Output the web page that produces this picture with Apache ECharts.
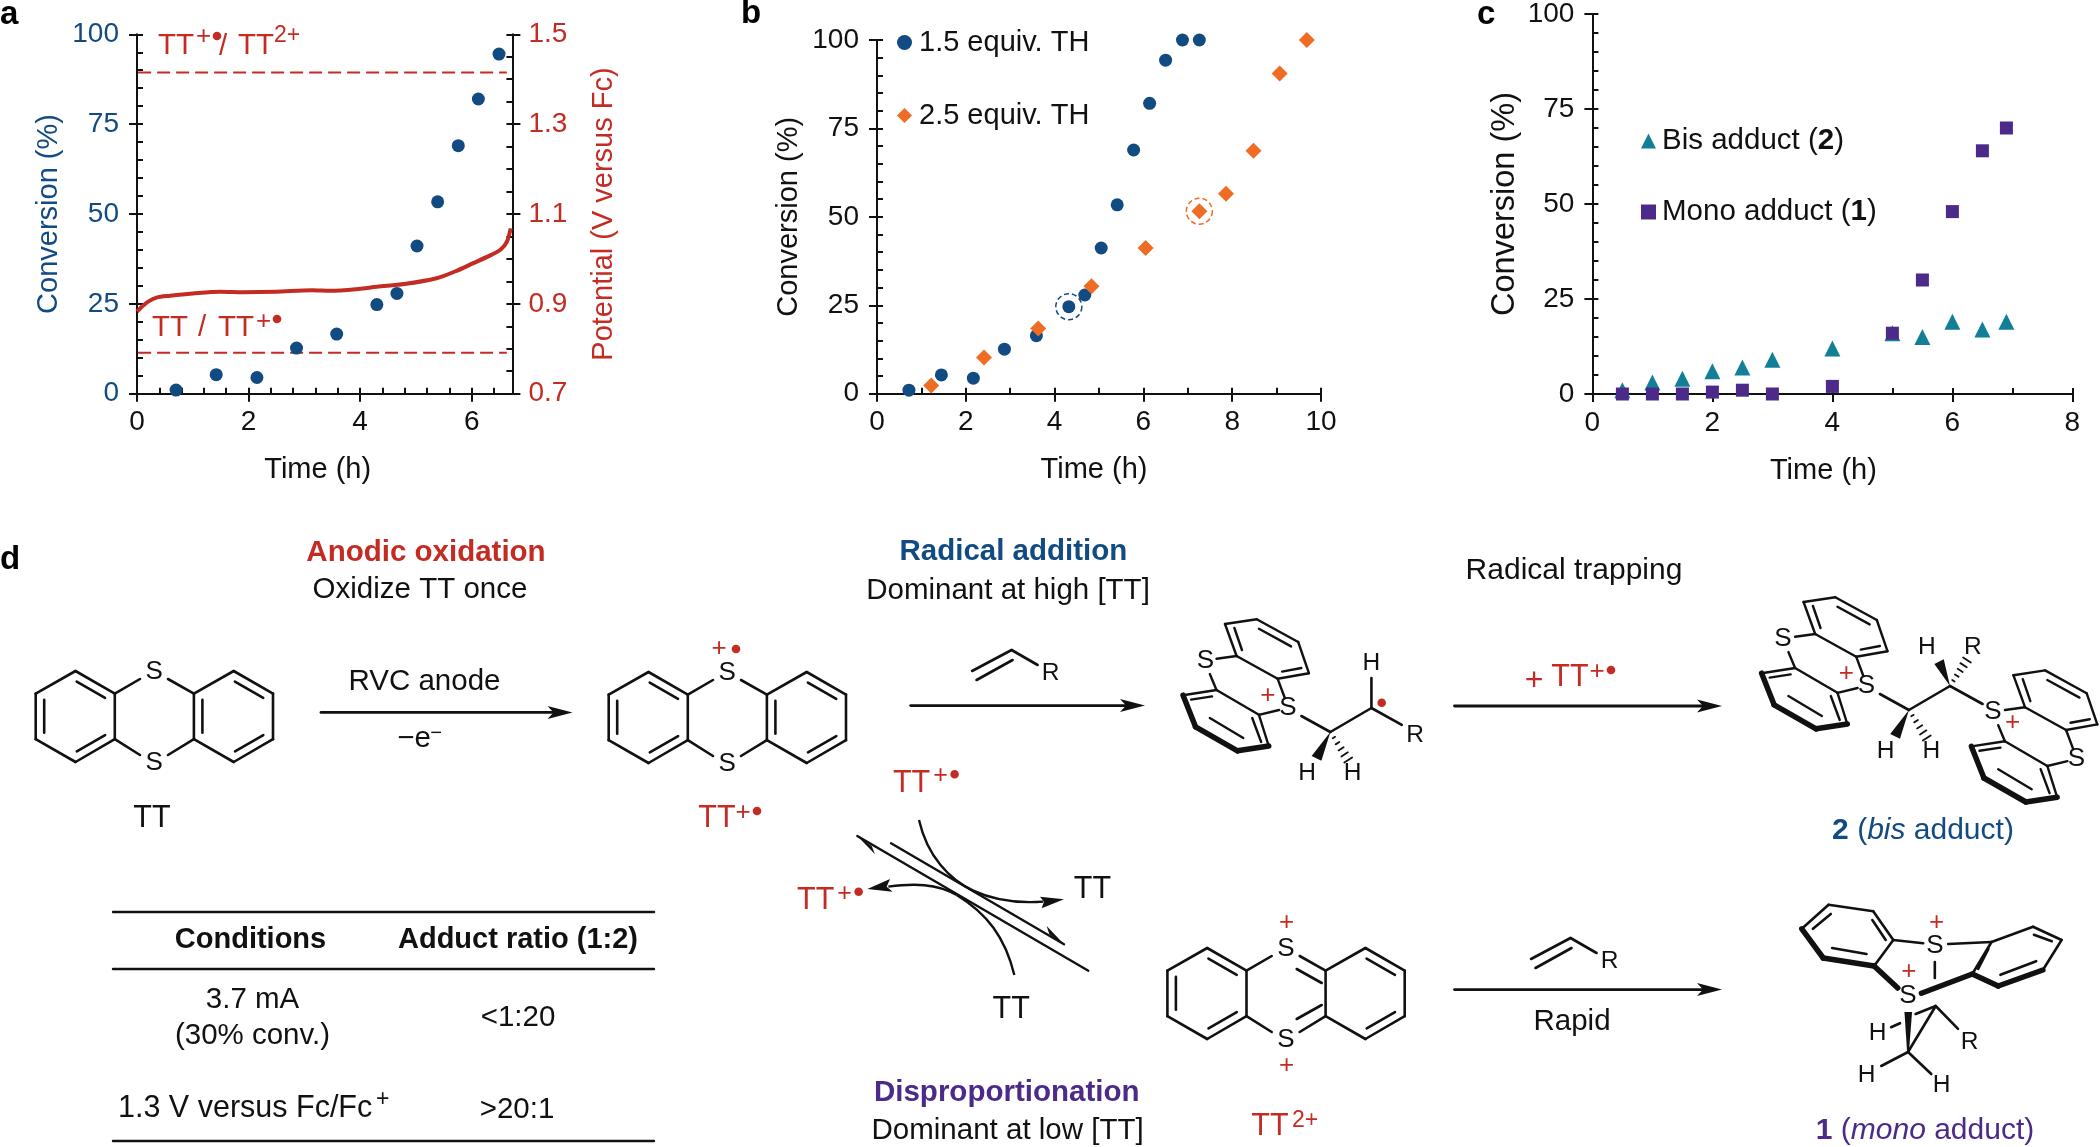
<!DOCTYPE html>
<html>
<head>
    <meta charset="UTF-8">
    <title>TT electrolysis</title>
    <style>
        html, body { margin: 0; padding: 0; background: #fff; }
    </style>
</head>
<body>
<div id="main" style="width: 2100px;height: 1147px;"></div>
<script src="https://cdn.jsdelivr.net/npm/echarts@6/dist/echarts.min.js"></script>
<script>
    var BLUE = '#124a82', RED = '#c32b23', ORANGE = '#ee6c24', TEAL = '#137f97', PURPLE = '#4b2a8a', INK = '#111111';
    var FONT = '"Liberation Sans"';

    // panel a
    var aConversion = [[0.70, 1.0], [1.42, 5.3], [2.15, 4.5], [2.86, 12.7], [3.58, 16.6], [4.30, 24.8], [4.66, 27.9], [5.02, 41.1], [5.39, 53.4], [5.76, 69], [6.12, 82], [6.49, 94.5]];
    var aPotential = [[0, 0.883], [0.05, 0.889], [0.1, 0.895], [0.2, 0.905], [0.35, 0.914], [0.59, 0.918], [1.0, 0.923], [1.5, 0.927], [1.9, 0.926], [2.49, 0.927], [3.14, 0.930], [3.47, 0.929], [3.97, 0.933], [4.3, 0.938], [4.79, 0.944], [5.37, 0.957], [5.7, 0.972], [6.02, 0.990], [6.35, 1.009], [6.52, 1.021], [6.63, 1.038], [6.7, 1.068]];
    var aUpperLevel = [[0.02, 1.415], [6.63, 1.415]];
    var aLowerLevel = [[0.02, 0.791], [6.63, 0.791]];
    var aTimeMax = 6.73;
    var aTimeTicks = [0, 2, 4, 6];
    var aTimeMinor = [0, 0.4, 0.8, 1.2, 1.6, 2, 2.4, 2.8, 3.2, 3.6, 4, 4.4, 4.8, 5.2, 5.6, 6, 6.4];
    var aPotTicks = [0.7, 0.9, 1.1, 1.3, 1.5];
    var aPotMinor = [0.7, 0.75, 0.8, 0.85, 0.9, 0.95, 1.0, 1.05, 1.1, 1.15, 1.2, 1.25, 1.3, 1.35, 1.4, 1.45, 1.5];

    // panel b
    var bEquiv15 = [[0.72, 1.0], [1.45, 5.3], [2.17, 4.4], [2.87, 12.6], [3.59, 16.4], [4.32, 24.6], [4.68, 27.9], [5.05, 41.2], [5.41, 53.4], [5.78, 68.9], [6.14, 82.1], [6.5, 94.3], [6.88, 100], [7.26, 100]];
    var bEquiv25 = [[1.22, 2.3], [2.41, 10.2], [3.63, 18.4], [4.83, 30.4], [6.05, 41.2], [7.26, 51.6], [7.86, 56.5], [8.48, 68.7], [9.07, 90.5], [9.68, 100]];
    var bRingBlue = [[4.32, 24.6]];
    var bRingOrange = [[7.26, 51.6]];
    var bTimeTicks = [0, 2, 4, 6, 8, 10];
    var bTimeMinor = [0, 1, 2, 3, 4, 5, 6, 7, 8, 9, 10];

    // panel c
    var cBis = [[0.5, 1], [1, 3], [1.5, 4], [2, 6], [2.5, 7], [3, 9], [4, 12], [5, 16], [5.5, 15], [6, 19], [6.5, 17], [6.9, 19]];
    var cMono = [[0.5, 0], [1, 0], [1.5, 0], [2, 0.5], [2.5, 1], [3, 0], [4, 2], [5, 16], [5.5, 30], [6, 48], [6.5, 64], [6.9, 70]];
    var cTimeTicks = [0, 2, 4, 6, 8];
    var cTimeMinor = [0, 1, 2, 3, 4, 5, 6, 7, 8];

    var convTicks = [0, 25, 50, 75, 100];
    var convMinor = [0, 5, 10, 15, 20, 25, 30, 35, 40, 45, 50, 55, 60, 65, 70, 75, 80, 85, 90, 95, 100];

    // one visible axis with outward ticks, plus a silent twin that draws the inward ticks
    function outerAxis(o) {
        return {
            type: 'value', gridIndex: o.grid, position: o.position, min: o.min, max: o.max,
            name: o.name, nameLocation: 'middle', nameGap: o.nameGap, nameRotate: o.rotate,
            nameTextStyle: { color: o.titleColor || INK, fontFamily: FONT, fontSize: o.titleSize || 29, padding: o.titlePad || 0 },
            splitLine: { show: false },
            axisLine: { show: true, onZero: false, lineStyle: { color: INK, width: 2 } },
            axisTick: { show: true, length: 8, customValues: o.ticks, lineStyle: { color: INK, width: 2 } },
            axisLabel: {
                show: true, customValues: o.ticks, margin: o.margin, color: o.labelColor || INK,
                fontFamily: FONT, fontSize: 28,
                formatter: o.format || function (v) { return String(v); }
            }
        };
    }
    function innerAxis(o) {
        return {
            type: 'value', gridIndex: o.grid, position: o.position, min: o.min, max: o.max,
            splitLine: { show: false },
            axisLine: { show: false, onZero: false },
            axisTick: { show: true, inside: true, length: 6, customValues: o.ticks, lineStyle: { color: INK, width: 2 } },
            axisLabel: { show: false }
        };
    }
    function convAxes(grid, titleGap, labelColor, titleColor, titleSize) {
        return [
            outerAxis({ grid: grid, position: 'left', min: 0, max: 100, ticks: convTicks, name: 'Conversion (%)', nameGap: titleGap, rotate: 90, margin: 18, labelColor: labelColor, titleColor: titleColor, titleSize: titleSize }),
            innerAxis({ grid: grid, position: 'left', min: 0, max: 100, ticks: convMinor })
        ];
    }
    function timeAxes(grid, max, ticks, minor, pad) {
        return [
            outerAxis({ grid: grid, position: 'bottom', min: 0, max: max, ticks: ticks, name: 'Time (h)', nameGap: 62, margin: 15, titlePad: [0, pad, 0, 0] }),
            innerAxis({ grid: grid, position: 'bottom', min: 0, max: max, ticks: minor })
        ];
    }

    // ---- drawn scheme, panel d ----
    var g = [];
    function text(x, y, str, size, color, weight, align) {
        g.push({
            type: 'text', silent: true, z: 20,
            style: {
                x: x, y: y, text: str, fill: color || INK, align: align || 'center', verticalAlign: 'middle',
                font: (weight || 'normal') + ' ' + (size || 29.5) + 'px ' + FONT
            }
        });
    }
    function richText(x, y, str, color, rich) {
        g.push({
            type: 'text', silent: true, z: 20,
            style: { x: x, y: y, text: str, fill: color, align: 'center', verticalAlign: 'middle', font: '30px ' + FONT, rich: rich }
        });
    }
    function line(x1, y1, x2, y2, w) {
        g.push({ type: 'line', silent: true, z: 10, shape: { x1: x1, y1: y1, x2: x2, y2: y2 }, style: { stroke: INK, lineWidth: w || 2.6, lineCap: 'round' } });
    }
    function fill(points, color) {
        g.push({ type: 'polygon', silent: true, z: 11, shape: { points: points }, style: { fill: color || INK } });
    }
    function dot(x, y, r) {
        g.push({ type: 'circle', silent: true, z: 21, shape: { cx: x, cy: y, r: r || 4.3 }, style: { fill: RED } });
    }
    function curve(p, w) {
        g.push({ type: 'bezierCurve', silent: true, z: 10, shape: { x1: p[0], y1: p[1], cpx1: p[2], cpy1: p[3], cpx2: p[4], cpy2: p[5], x2: p[6], y2: p[7] }, style: { stroke: INK, fill: 'none', lineWidth: w || 2.4 } });
    }
    function arrow(x1, x2, y) {
        line(x1, y, x2 - 12, y, 2.8);
        fill([[x2, y], [x2 - 25, y - 6.5], [x2 - 19, y], [x2 - 25, y + 6.5]]);
    }
    // inner line of a double bond, pulled towards the ring centre
    function dbl(a, b, c) {
        var mx = (a[0] + b[0]) / 2, my = (a[1] + b[1]) / 2;
        var k = 8.5 / Math.sqrt((c[0] - mx) * (c[0] - mx) + (c[1] - my) * (c[1] - my));
        var ox = (c[0] - mx) * k, oy = (c[1] - my) * k;
        var s = 0.14;
        line(a[0] + (b[0] - a[0]) * s + ox, a[1] + (b[1] - a[1]) * s + oy, b[0] + (a[0] - b[0]) * s + ox, b[1] + (a[1] - b[1]) * s + oy);
    }
    function polyline(pts, dx, dy, w, closed) {
        for (var i = 0; i < pts.length - (closed ? 0 : 1); i++) {
            var p = pts[i], q = pts[(i + 1) % pts.length];
            line(p[0] + dx, p[1] + dy, q[0] + dx, q[1] + dy, w);
        }
    }
    // flat thianthrene drawn from the neutral TT outline; dicat adds the S=C bonds
    function flatTT(dx, dy, dicat) {
        var L = [[75.5, 671], [114.8, 693.6], [114.8, 739.2], [75.5, 762], [35.7, 739.2], [35.7, 693.6]];
        var R = [[193.9, 693.6], [233.7, 671], [273, 693.6], [273, 739.2], [233.7, 762], [193.9, 739.2]];
        var m = function (p) { return [p[0] + dx, p[1] + dy]; };
        polyline(L, dx, dy, 2.6, true);
        polyline(R, dx, dy, 2.6, true);
        var lc = m([75.5, 716]), rc = m([233.7, 716]);
        dbl(m(L[0]), m(L[1]), lc); dbl(m(L[4]), m(L[5]), lc); dbl(m(L[2]), m(L[3]), lc);
        dbl(m(R[1]), m(R[2]), rc); dbl(m(R[3]), m(R[4]), rc);
        if (!dicat) dbl(m(R[0]), m(R[5]), rc);
        line(114.8 + dx, 693.6 + dy, 140 + dx, 679 + dy, 2.6);
        line(114.8 + dx, 739.2 + dy, 140 + dx, 755 + dy, 2.6);
        line(168 + dx, 679 + dy, 193.9 + dx, 693.6 + dy, 2.6);
        line(168 + dx, 755 + dy, 193.9 + dx, 739.2 + dy, 2.6);
        if (dicat) {
            line(165 + dx, 692 + dy, 190 + dx, 706 + dy, 2.6);
            line(165 + dx, 742 + dy, 190 + dx, 728 + dy, 2.6);
        }
        text(154.2 + dx, 672 + dy, 'S', 26);
        text(154.2 + dx, 762.5 + dy, 'S', 26);
    }
    // crop units of the drawing sheet: 2.24 per px across, 2.5 per px down
    function X(v) { return 750 + v / 2.24; }
    function Y(v) { return 520 + v / 2.5; }
    function seg(list, dx, dy, w) {
        list.forEach(function (s) { line(X(s[0] + dx), Y(s[1] + dy), X(s[2] + dx), Y(s[3] + dy), w); });
    }
    var foldThin = [[1064, 260, 1135, 248], [1135, 248, 1228, 305], [1228, 305, 1252, 383], [1252, 383, 1182, 397], [1182, 397, 1090, 340], [1090, 340, 1064, 260],
        [1085, 270, 1102, 325], [1140, 272, 1212, 316], [1235, 370, 1192, 379],
        [1045, 347, 1090, 340], [1030, 385, 1045, 425], [1140, 487, 1185, 475], [1182, 397, 1198, 445],
        [970, 438, 1045, 425], [1045, 425, 1140, 487], [1140, 487, 1162, 565],
        [988, 449, 1035, 441], [1030, 495, 1105, 545], [1125, 495, 1145, 555]];
    var foldThick = [[970, 438, 998, 517], [998, 517, 1092, 577], [1092, 577, 1162, 565]];
    function foldedTT(dx, dy) {
        seg(foldThin, dx, dy, 2.4);
        seg(foldThick, dx, dy, 5.5);
    }
    function wedge(tip, a, b) {
        fill([[X(tip[0]), Y(tip[1])], [X(a[0]), Y(a[1])], [X(b[0]), Y(b[1])]]);
    }
    // hashed wedge: short bars across the bond, widening away from the first atom
    function hash(from, to) {
        var x1 = X(from[0]), y1 = Y(from[1]), x2 = X(to[0]), y2 = Y(to[1]);
        var len = Math.sqrt((x2 - x1) * (x2 - x1) + (y2 - y1) * (y2 - y1));
        var nx = -(y2 - y1) / len, ny = (x2 - x1) / len;
        for (var i = 1; i <= 5; i++) {
            var t = i / 5, hw = 0.6 + t * 4;
            var cx = x1 + (x2 - x1) * t, cy = y1 + (y2 - y1) * t;
            line(cx - nx * hw, cy - ny * hw, cx + nx * hw, cy + ny * hw, 1.8);
        }
    }
    function atom(v, u, s, color) { text(X(v), Y(u), s, s === 'S' || s === '+' ? 26 : 24.5, color); }
    function alkene(x, y) { // x,y at the bend
        line(x - 39.5, y + 21, x, y, 2.6);
        line(x - 35, y + 30, x + 1, y + 10, 2.6);
        line(x, y, x + 26, y + 15, 2.6);
        text(x + 39, y + 23, 'R', 24.5);
    }
    function radicalCation(x, y) { // + and dot after a red TT
        text(x + 26, y - 7, '+', 25, RED);
        dot(x + 40, y - 9);
    }

    // panel letters
    text(0, 15, 'a', 33, '#000', 'bold', 'left');
    text(741, 14, 'b', 33, '#000', 'bold', 'left');
    text(1477, 15, 'c', 33, '#000', 'bold', 'left');
    text(0, 560, 'd', 33, '#000', 'bold', 'left');

    // labels inside panel a
    text(158, 46, 'TT', 29.5, RED, null, 'left');
    text(196, 37, '+', 26, RED, null, 'left');
    dot(217, 36);
    text(219, 47, '/', 29.5, RED, null, 'left');
    text(238, 46, 'TT', 29.5, RED, null, 'left');
    text(274, 36, '2+', 23, RED, null, 'left');
    text(152, 328, 'TT', 29.5, RED, null, 'left');
    text(198, 328, '/', 29.5, RED, null, 'left');
    text(218, 328, 'TT', 29.5, RED, null, 'left');
    text(256, 322, '+', 26, RED, null, 'left');
    dot(277, 319);

    // anodic oxidation
    text(426, 553, 'Anodic oxidation', 29.5, RED, 'bold');
    text(420, 590, 'Oxidize TT once');
    flatTT(0, 0);
    text(152, 819, 'TT', 30.5);
    arrow(321, 572.5, 712.4);
    text(424.5, 682, 'RVC anode');
    text(414, 739, '\u2212e');
    text(436, 733, '\u2212', 20);

    flatTT(573, 1);
    text(719, 649, '+', 26, RED);
    dot(736, 649);
    text(717, 819, 'TT', 30.5, RED);
    text(743, 813, '+', 26, RED);
    dot(757, 811);

    // table
    line(113, 912, 654, 912, 2.4);
    line(113, 969, 654, 969, 2.4);
    line(113, 1141, 654, 1141, 2.4);
    text(250.5, 940, 'Conditions', 29, INK, 'bold');
    text(518, 940, 'Adduct ratio (1:2)', 29, INK, 'bold');
    text(252.5, 1000, '3.7 mA');
    text(252.5, 1036, '(30% conv.)');
    text(518, 1018, '<1:20');
    text(118, 1109, '1.3 V versus Fc/Fc', 30.5, INK, null, 'left');
    text(376, 1100, '+', 23, INK, null, 'left');
    text(517, 1110, '>20:1');

    // radical addition
    text(1013.4, 552, 'Radical addition', 29.5, BLUE, 'bold');
    text(1008, 591, 'Dominant at high [TT]');
    alkene(1011.6, 650);
    arrow(910.7, 1145, 705.6);
    foldedTT(0, 0);
    atom(1020, 352, 'S');
    atom(1205, 470, 'S');
    atom(1160, 440, '+', RED);
    seg([[1235, 490, 1300, 530], [1300, 530, 1392, 470], [1392, 470, 1392, 395], [1392, 470, 1460, 512]], 0, 0, 2.6);
    wedge([1300, 530], [1258, 590], [1280, 602]);
    hash([1300, 530], [1340, 600]);
    atom(1392, 358, 'H');
    atom(1490, 537, 'R');
    atom(1248, 632, 'H');
    atom(1350, 632, 'H');
    dot(X(1415), Y(457));

    // radical trapping
    text(1574, 571, 'Radical trapping', 30);
    text(1534, 681, '+', 32, RED);
    text(1570, 678, 'TT', 30.5, RED);
    text(1597, 672, '+', 26, RED);
    dot(1611, 670);
    arrow(1454.5, 1722, 706);
    foldedTT(-160 + 1456, -55);
    foldedTT(470 - 160 + 1456, 183 - 55);
    var bisShift = 1456;
    atom(858 + bisShift, 297, 'S');
    atom(1045 + bisShift, 415, 'S');
    atom(1000 + bisShift, 385, '+', RED);
    atom(1328 + bisShift, 480, 'S');
    atom(1515 + bisShift, 598, 'S');
    atom(1372 + bisShift, 507, '+', RED);
    seg([[1075, 435, 1140, 475], [1140, 475, 1232, 415], [1232, 415, 1305, 460]], bisShift, 0, 2.6);
    wedge([1140 + bisShift, 475], [1098 + bisShift, 535], [1120 + bisShift, 547]);
    hash([1140 + bisShift, 475], [1180 + bisShift, 545]);
    wedge([1232 + bisShift, 415], [1197 + bisShift, 360], [1218 + bisShift, 348]);
    hash([1232 + bisShift, 415], [1270 + bisShift, 350]);
    atom(1088 + bisShift, 578, 'H');
    atom(1190 + bisShift, 578, 'H');
    atom(1180 + bisShift, 318, 'H');
    atom(1283 + bisShift, 318, 'R');
    richText(1923, 831, '{b|2} ({i|bis} adduct)', BLUE, {
        b: { font: 'bold 30px ' + FONT, fill: BLUE },
        i: { font: 'italic 30px ' + FONT, fill: BLUE }
    });

    // disproportionation
    var fx = function (v) { return 840 + v / 3; }, fy = function (v) { return 820 + v / 3; };
    line(fx(52), fy(48), fx(745), fy(452), 2.4);
    line(fx(153), fy(70), fx(672), fy(373), 2.4);
    fill([[fx(52), fy(48)], [fx(105), fy(103)], [fx(95), fy(78)]]);
    fill([[fx(672), fy(373)], [fx(620), fy(318)], [fx(628), fy(343)]]);
    curve([fx(237), fy(0), fx(262), fy(110), fx(330), fy(180), fx(400), fy(212)]);
    curve([fx(400), fy(212), fx(470), fy(245), fx(540), fy(250), fx(610), fy(245)]);
    fill([[fx(672), fy(238)], [fx(600), fy(230)], [fx(612), fy(245)], [fx(605), fy(265)]]);
    curve([fx(523), fy(465), fx(495), fy(350), fx(440), fy(280), fx(350), fy(225)]);
    curve([fx(350), fy(225), fx(290), fy(190), fx(220), fy(190), fx(145), fy(200)]);
    fill([[fx(82), fy(207)], [fx(150), fy(177)], [fx(140), fy(200)], [fx(158), fy(215)]]);
    text(X(362), Y(658), 'TT', 30.5, RED);
    radicalCation(X(362) + 3, Y(658));
    text(X(147), Y(952), 'TT', 30.5, RED);
    radicalCation(X(147) + 3, Y(952));
    text(X(767), Y(925), 'TT', 30.5);
    text(X(585), Y(1225), 'TT', 30.5);
    text(1006.7, 1093, 'Disproportionation', 29.5, PURPLE, 'bold');
    text(1007.6, 1131, 'Dominant at low [TT]');

    flatTT(1131.7, 277, true);
    text(1286.6, 923, '+', 26, RED);
    text(1286.6, 1066, '+', 26, RED);
    text(1270, 1127, 'TT', 30.5, RED);
    text(1305, 1121, '2+', 23, RED);

    // rapid mono adduct, coordinates taken on the same sheet shifted by 1456
    alkene(X(382 + 1456), Y(1045));
    text(1572, 1022, 'Rapid');
    arrow(1454.5, 1722, 989.6);
    var s = 1456;
    seg([[960, 962, 1060, 978], [1060, 978, 1105, 1050], [1105, 1050, 1062, 1115], [960, 962, 900, 1022],
        [965, 985, 925, 1022], [1058, 1000, 1088, 1050], [968, 1070, 1045, 1085],
        [1105, 1050, 1172, 1058], [1228, 1060, 1325, 1055],
        [1325, 1055, 1418, 1017], [1418, 1017, 1482, 1050], [1482, 1050, 1440, 1125], [1325, 1055, 1282, 1135],
        [1318, 1072, 1295, 1122], [1420, 1037, 1460, 1053], [1345, 1137, 1425, 1103],
        [1198, 1105, 1198, 1145], [1155, 1235, 1200, 1215],
        [1200, 1215, 1250, 1272], [1200, 1215, 1138, 1330],
        [1100, 1268, 1120, 1258], [1138, 1330, 1078, 1365], [1138, 1330, 1190, 1385]], s, 0, 2.6);
    seg([[900, 1022, 948, 1095], [948, 1095, 1062, 1115], [1062, 1115, 1115, 1170],
        [1282, 1135, 1340, 1165], [1340, 1165, 1440, 1125], [1282, 1135, 1168, 1183]], s, 0, 5.5);
    fill([[X(1130 + s), Y(1230)], [X(1147 + s), Y(1230)], [X(1140 + s), Y(1332)], [X(1136 + s), Y(1332)]]);
    atom(1198 + s, 1065, 'S');
    atom(1138 + s, 1190, 'S');
    atom(1202 + s, 1008, '+', RED);
    atom(1140 + s, 1130, '+', RED);
    atom(1276 + s, 1305, 'R');
    atom(1070 + s, 1282, 'H');
    atom(1045 + s, 1388, 'H');
    atom(1213 + s, 1413, 'H');
    richText(1925, 1131, '{b|1} ({i|mono} adduct)', PURPLE, {
        b: { font: 'bold 30px ' + FONT, fill: PURPLE },
        i: { font: 'italic 30px ' + FONT, fill: PURPLE }
    });

    var aTime = timeAxes(0, aTimeMax, aTimeTicks, aTimeMinor, 14);
    var bTime = timeAxes(1, 10, bTimeTicks, bTimeMinor, 10);
    var cTime = timeAxes(2, 8, cTimeTicks, cTimeMinor, 18);

    var aConv = convAxes(0, 74, BLUE, BLUE);
    var aPot = [
        outerAxis({ grid: 0, position: 'right', min: 0.7, max: 1.5, ticks: aPotTicks, name: 'Potential (V versus Fc)', nameGap: 77, rotate: 90, margin: 16, labelColor: RED, titleColor: RED, format: function (v) { return v.toFixed(1); } }),
        innerAxis({ grid: 0, position: 'right', min: 0.7, max: 1.5, ticks: aPotMinor })
    ];
    var bConv = convAxes(1, 74);
    var cConv = convAxes(2, 71, INK, INK, 32.5);

    var option = {
        animation: false,
        backgroundColor: '#fff',
        textStyle: { fontFamily: FONT },
        grid: [
            { left: 137, top: 34.3, width: 375.4, height: 359.4 },
            { left: 877, top: 40, width: 444, height: 353.7 },
            { left: 1592.4, top: 12.3, width: 480, height: 381.7 }
        ],
        xAxis: aTime.concat(bTime, cTime),
        yAxis: aConv.concat(aPot, bConv, cConv),
        legend: [
            {
                orient: 'vertical', left: 897, top: 28, padding: 0, itemGap: 44, itemWidth: 15, itemHeight: 15, itemStyle: { borderWidth: 0 },
                textStyle: { color: INK, fontFamily: FONT, fontSize: 29, padding: [0, 0, 0, 2] },
                data: ['1.5 equiv. TH', '2.5 equiv. TH']
            },
            {
                orient: 'vertical', left: 1641, top: 126, padding: 0, itemGap: 41, itemWidth: 15, itemHeight: 15, itemStyle: { borderWidth: 0 },
                textStyle: { color: INK, fontFamily: FONT, fontSize: 29.5, padding: [0, 0, 0, 1], rich: { b: { fontFamily: FONT, fontSize: 29.5, fontWeight: 'bold', color: INK } } },
                data: ['Bis adduct (2)', 'Mono adduct (1)'],
                formatter: function (name) { return name.replace(/\((\d)\)/, '({b|$1})'); }
            }
        ],
        graphic: { elements: g },
        series: [
            { name: 'Potential', type: 'line', xAxisIndex: 0, yAxisIndex: 2, data: aPotential, showSymbol: false, smooth: 0.3, clip: false, lineStyle: { color: RED, width: 4 }, z: 3 },
            { name: 'TT+/TT2+', type: 'line', xAxisIndex: 0, yAxisIndex: 2, data: aUpperLevel, showSymbol: false, lineStyle: { color: RED, width: 2, type: [13, 6] }, z: 3 },
            { name: 'TT/TT+', type: 'line', xAxisIndex: 0, yAxisIndex: 2, data: aLowerLevel, showSymbol: false, lineStyle: { color: RED, width: 2, type: [13, 6] }, z: 3 },
            { name: 'Conversion', type: 'scatter', xAxisIndex: 0, yAxisIndex: 0, data: aConversion, symbol: 'circle', symbolSize: 13, clip: false, itemStyle: { color: BLUE, opacity: 1 }, z: 4 },

            { name: '1.5 equiv. TH', type: 'scatter', xAxisIndex: 2, yAxisIndex: 4, data: bEquiv15, symbol: 'circle', symbolSize: 13, clip: false, itemStyle: { color: BLUE, opacity: 1 }, z: 4 },
            { name: '2.5 equiv. TH', type: 'scatter', xAxisIndex: 2, yAxisIndex: 4, data: bEquiv25, symbol: 'diamond', symbolSize: 16, clip: false, itemStyle: { color: ORANGE, opacity: 1 }, z: 5 },
            { name: 'ring blue', type: 'scatter', xAxisIndex: 2, yAxisIndex: 4, data: bRingBlue, symbol: 'circle', symbolSize: 26, clip: false, itemStyle: { color: 'none', opacity: 1, borderColor: BLUE, borderWidth: 1.5, borderType: [5, 3] }, z: 5 },
            { name: 'ring orange', type: 'scatter', xAxisIndex: 2, yAxisIndex: 4, data: bRingOrange, symbol: 'circle', symbolSize: 26, clip: false, itemStyle: { color: 'none', opacity: 1, borderColor: ORANGE, borderWidth: 1.5, borderType: [5, 3] }, z: 5 },

            { name: 'Bis adduct (2)', type: 'scatter', xAxisIndex: 4, yAxisIndex: 6, data: cBis, symbol: 'triangle', symbolSize: 16, clip: false, itemStyle: { color: TEAL, opacity: 1 }, z: 4 },
            { name: 'Mono adduct (1)', type: 'scatter', xAxisIndex: 4, yAxisIndex: 6, data: cMono, symbol: 'rect', symbolSize: 13, clip: false, itemStyle: { color: PURPLE, opacity: 1 }, z: 5 }
        ]
    };

    var myChart = echarts.init(document.getElementById('main'));
    myChart.setOption(option);
</script>
</body>
</html>
